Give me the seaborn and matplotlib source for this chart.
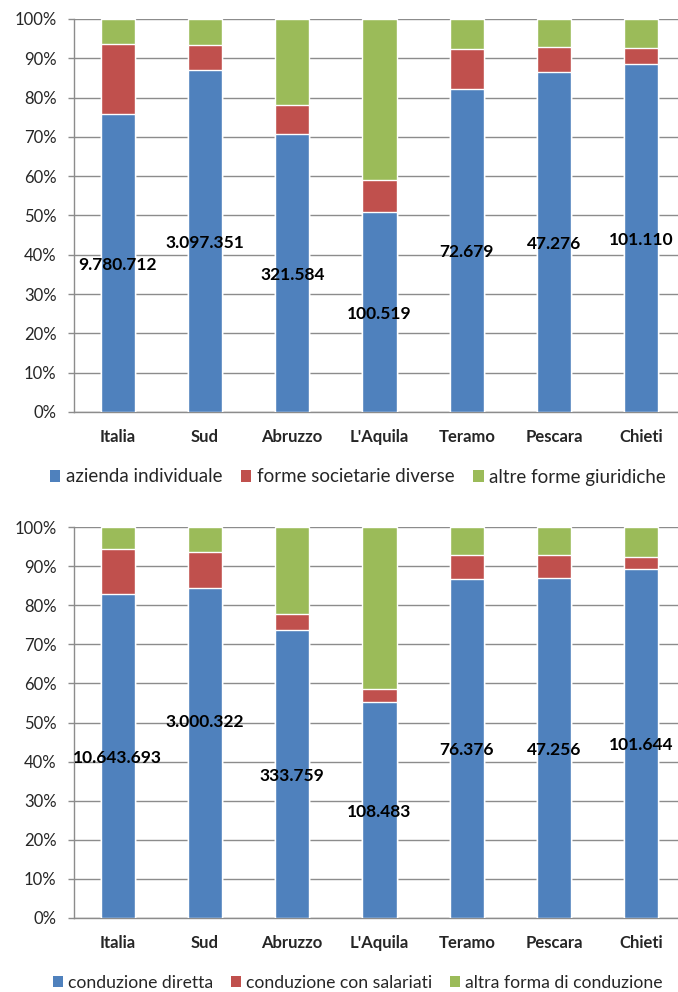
import numpy as np
import pandas as pd
import matplotlib
matplotlib.use('Agg')
import matplotlib.pyplot as plt
from matplotlib.patches import Patch
import seaborn as sns

categories = ['Italia', 'Sud', 'Abruzzo', "L'Aquila", 'Teramo', 'Pescara', 'Chieti']

# top chart: forma giuridica (% share)
top_blue = [75.9, 87.0, 70.7, 50.9, 82.2, 86.5, 88.6]
top_red = [17.8, 6.5, 7.4, 8.2, 10.1, 6.3, 4.0]
top_labels = ['9.780.712', '3.097.351', '321.584', '100.519', '72.679', '47.276', '101.110']
top_names = ['azienda individuale', 'forme societarie diverse', 'altre forme giuridiche']

# bottom chart: forma di conduzione (% share)
bot_blue = [82.9, 84.5, 73.7, 55.3, 86.7, 87.0, 89.3]
bot_red = [11.5, 9.1, 4.0, 3.3, 6.1, 5.8, 3.0]
bot_labels = ['10.643.693', '3.000.322', '333.759', '108.483', '76.376', '47.256', '101.644']
bot_names = ['conduzione diretta', 'conduzione con salariati', 'altra forma di conduzione']

colors = ['#4F81BD', '#C0504D', '#9BBB59']

sns.set_style('white')
plt.rcParams['font.family'] = ['Lato', 'DejaVu Sans']

fig = plt.figure(figsize=(6.78, 9.92), dpi=100)
ax_top = fig.add_axes([74 / 678, 580 / 992, 611 / 678, 393 / 992])
ax_bot = fig.add_axes([74 / 678, 74 / 992, 611 / 678, 391 / 992])


def stacked(ax, blue, red, labels, names, legend_y, legend_size, nudge=None):
    nudge = nudge or {}
    df = pd.DataFrame({'cat': categories, 'blue': blue, 'red': red})
    df['cum_red'] = df['blue'] + df['red']
    df['total'] = 100.0
    # draw from the top of the stack down so each layer covers the previous
    for col, c in zip(['total', 'cum_red', 'blue'], colors[::-1]):
        sns.barplot(data=df, x='cat', y=col, color=c, width=0.39,
                    saturation=1, ax=ax, zorder=3)
    for i, (b, t) in enumerate(zip(df['blue'], labels)):
        y = b / 2 - 0.5 + nudge.get(i, 0)
        ax.text(i, y, t, ha='center', va='center', fontsize=12.5,
                fontweight='bold', color='black', zorder=5, clip_on=False)
    ax.set_ylim(0, 100)
    ax.set_xlim(-0.5, 6.5)
    ax.set_yticks(np.arange(0, 101, 10))
    ax.set_yticklabels([f'{v}%' for v in range(0, 101, 10)], fontsize=12)
    ax.yaxis.grid(True, color='#8c8c8c', linewidth=1)
    ax.set_axisbelow(True)
    ax.set_xlabel('')
    ax.set_ylabel('')
    ax.set_xticks(range(len(categories)))
    ax.set_xticklabels(categories, fontsize=12, fontweight='bold')
    ax.set_xticks(np.arange(-0.5, 7, 1), minor=True)
    ax.tick_params(axis='x', which='major', length=0, pad=12)
    ax.tick_params(axis='x', which='minor', length=5, color='#8c8c8c', width=1)
    ax.tick_params(axis='y', length=4.5, color='#8c8c8c', width=1, left=True, pad=8)
    for s in ['top', 'right']:
        ax.spines[s].set_visible(False)
    for s in ['left', 'bottom']:
        ax.spines[s].set_color('#8c8c8c')
        ax.spines[s].set_linewidth(1)
    handles = [Patch(facecolor=c, edgecolor='none') for c in colors]
    fig.legend(handles, names, loc='center', bbox_to_anchor=(0.528, legend_y),
               ncol=3, frameon=False, fontsize=legend_size, handlelength=0.55,
               handleheight=0.55, handletextpad=0.3, columnspacing=1.0)


stacked(ax_top, top_blue, top_red, top_labels, top_names, 1 - 477 / 992, 13.5)
# the Sud label sits higher in the bottom chart of the original
stacked(ax_bot, bot_blue, bot_red, bot_labels, bot_names, 1 - 983 / 992, 12.7,
        nudge={1: 8.5})

fig.savefig('out.png', dpi=100)
